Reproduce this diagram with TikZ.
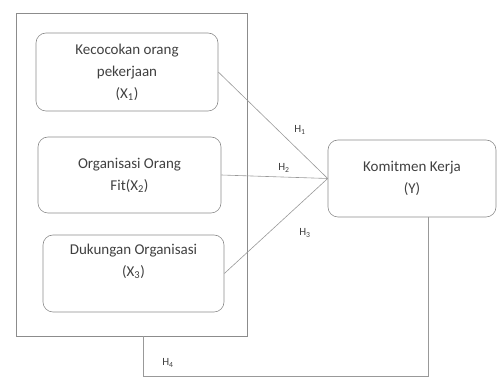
\documentclass[tikz,border=0pt]{standalone}
\usepackage{fontspec}
\setmainfont{Carlito}
\usepackage{tikz}

\begin{document}
\begin{tikzpicture}[x=1pt,y=1pt,
    kotak/.style={draw=gray!90,semithick,rounded corners=10pt,align=center,
      text=black!75,font=\fontsize{15}{22}\selectfont,inner sep=0pt},
    garis/.style={draw=gray!80,semithick},
    hip/.style={text=black!75,font=\fontsize{11}{13}\selectfont}]
    \useasboundingbox (0,0) rectangle (499,380);
    \node[draw=gray!90,thick,minimum width=231,minimum height=323] (luar) at (131.5,205.5) {};
    \node[kotak,minimum width=182,minimum height=78] (xa) at (127,308)
      {Kecocokan orang\\pekerjaan\\(X\textsubscript{1})};
    \node[kotak,minimum width=183,minimum height=76] (xb) at (129.5,205)
      {Organisasi Orang\\Fit(X\textsubscript{2})};
    \node[kotak,minimum width=181,minimum height=77] (xc) at (133.5,106.5)
      {Dukungan Organisasi\\(X\textsubscript{3})\\[4pt]};
    \node[kotak,minimum width=168,minimum height=77] (y) at (412,201.5)
      {Komitmen Kerja\\(Y)};
    \coordinate (temu) at (y.west);
    \draw[garis] (xa.east) -- (temu); \draw[garis] (xb.east) -- (temu);
    \draw[garis] (xc.east) -- (temu);
    \node[hip] (h1) at (300,250) {H\textsubscript{1}};
    \node[hip] (h2) at (284,212) {H\textsubscript{2}};
    \node[hip] (h3) at (305,147) {H\textsubscript{3}};
    \node[hip] (h4) at (168,17) {H\textsubscript{4}};
    \draw[garis] ([xshift=16pt]y.south) -- ++(0,-159) -| ([xshift=11.5pt]luar.south);
  \end{tikzpicture}
\end{document}
